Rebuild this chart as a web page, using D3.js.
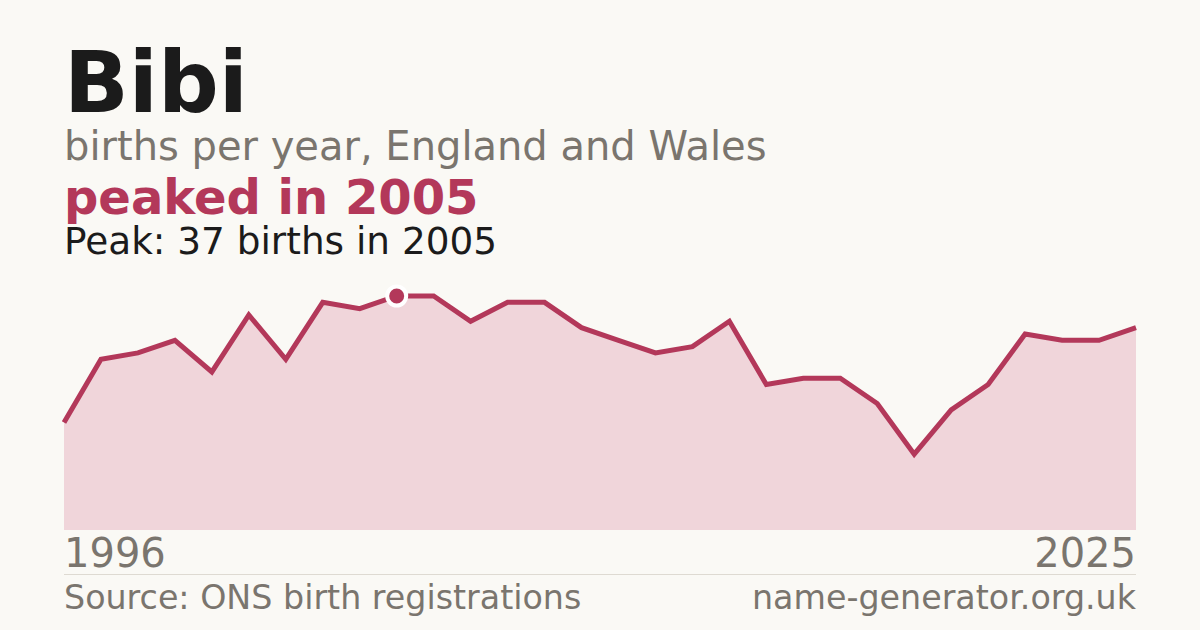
<!DOCTYPE html>
<html>
<head>
<meta charset="utf-8">
<script src="https://cdn.jsdelivr.net/npm/d3@7"></script>
<style>
  html, body { margin: 0; padding: 0; background: #faf9f5; }
  svg { display: block; font-family: "DejaVu Sans", sans-serif; }
</style>
</head>
<body>
<svg id="chart" width="1200" height="630"></svg>
<script>
// Births per year for the name
const years = d3.range(1996, 2026);
const births = [17, 27, 28, 30, 25, 34, 27, 36, 35, 37,
                37, 33, 36, 36, 32, 30, 28, 29, 33, 23,
                24, 24, 20, 12, 19, 23, 31, 30, 30, 32];

const nameLabel = "Bibi";
const subtitle = "births per year, England and Wales";
const source = "Source: ONS birth registrations";
const site = "name-generator.org.uk";

const crimson = "#b3385a";
const grey = "#7a756e";
const ink = "#1b1b1b";

const svg = d3.select("#chart");

svg.append("rect")
  .attr("width", 1200)
  .attr("height", 630)
  .attr("fill", "#faf9f5");

// Peak lookup
const peakIndex = d3.maxIndex(births);
const peakYear = years[peakIndex];
const peakValue = births[peakIndex];

// Header texts
svg.append("text")
  .attr("x", 64).attr("y", 112)
  .attr("font-size", 85).attr("font-weight", "bold")
  .attr("fill", ink)
  .text(nameLabel);

svg.append("text")
  .attr("x", 64).attr("y", 160)
  .attr("font-size", 40)
  .attr("fill", grey)
  .text(subtitle);

svg.append("text")
  .attr("x", 64).attr("y", 214)
  .attr("font-size", 48).attr("font-weight", "bold")
  .attr("fill", crimson)
  .text(`peaked in ${peakYear}`);

svg.append("text")
  .attr("x", 64).attr("y", 254)
  .attr("font-size", 37.4)
  .attr("fill", ink)
  .text(`Peak: ${peakValue} births in ${peakYear}`);

// Scales
const x = d3.scaleLinear()
  .domain(d3.extent(years))
  .range([64, 1136]);

const y = d3.scaleLinear()
  .domain([0, d3.max(births)])
  .range([530, 296]);

const series = years.map((yr, i) => ({ year: yr, value: births[i] }));

const area = d3.area()
  .x(d => x(d.year))
  .y0(y(0))
  .y1(d => y(d.value));

const line = d3.line()
  .x(d => x(d.year))
  .y(d => y(d.value));

svg.append("path")
  .datum(series)
  .attr("d", area)
  .attr("fill", "#f0d5da");

svg.append("path")
  .datum(series)
  .attr("d", line)
  .attr("fill", "none")
  .attr("stroke", crimson)
  .attr("stroke-width", 5)
  .attr("stroke-linejoin", "miter");

// Peak marker
svg.append("circle")
  .attr("cx", x(peakYear))
  .attr("cy", y(peakValue))
  .attr("r", 9.5)
  .attr("fill", crimson)
  .attr("stroke", "#ffffff")
  .attr("stroke-width", 4);

// Year end labels
svg.append("text")
  .attr("x", x(years[0])).attr("y", 567)
  .attr("font-size", 40)
  .attr("fill", grey)
  .text(years[0]);

svg.append("text")
  .attr("x", x(years[years.length - 1])).attr("y", 567)
  .attr("text-anchor", "end")
  .attr("font-size", 40)
  .attr("fill", grey)
  .text(years[years.length - 1]);

// Footer
svg.append("line")
  .attr("x1", 64).attr("x2", 1136)
  .attr("y1", 574.5).attr("y2", 574.5)
  .attr("stroke", "#dedad2")
  .attr("stroke-width", 1);

svg.append("text")
  .attr("x", 64).attr("y", 609)
  .attr("font-size", 33.3)
  .attr("fill", grey)
  .text(source);

svg.append("text")
  .attr("x", 1136).attr("y", 609)
  .attr("text-anchor", "end")
  .attr("font-size", 33.3)
  .attr("fill", grey)
  .text(site);
</script>
</body>
</html>
